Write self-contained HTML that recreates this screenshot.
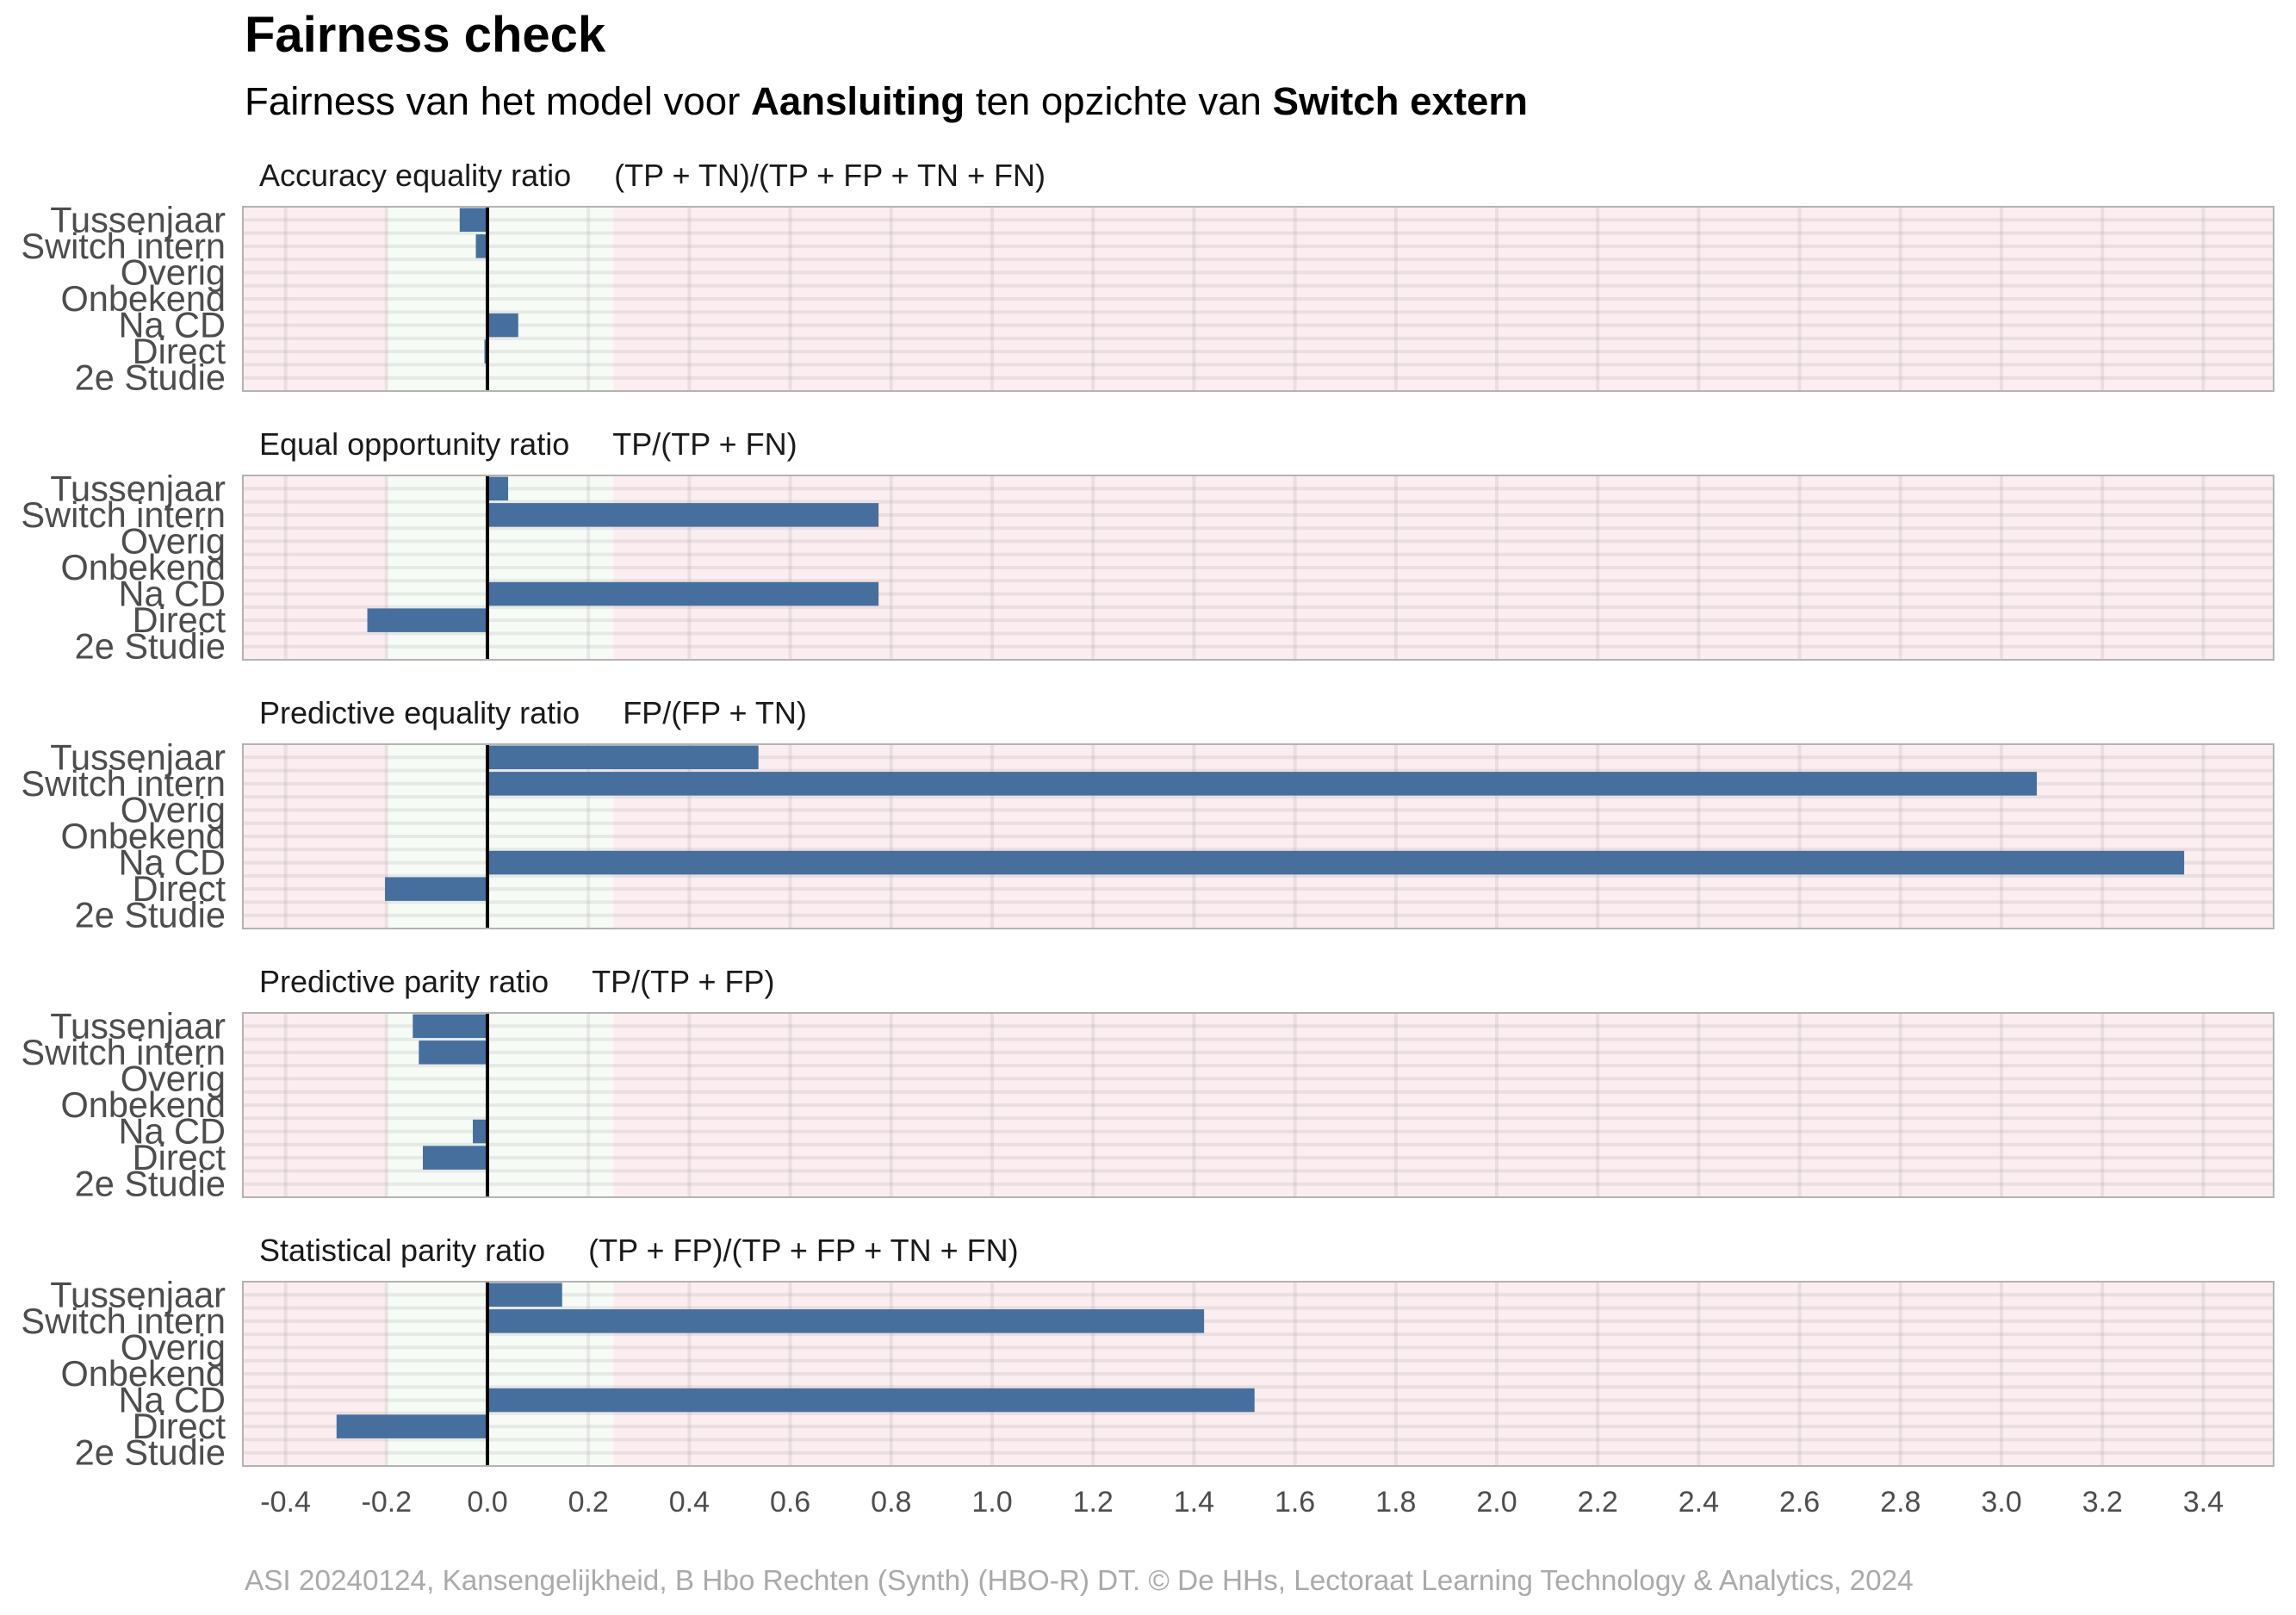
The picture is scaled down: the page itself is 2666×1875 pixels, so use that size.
<!DOCTYPE html>
<html><head><meta charset="utf-8"><style>
html,body{margin:0;padding:0;background:#fff;}
svg{display:block;font-family:"Liberation Sans",Arial,sans-serif;}
</style></head><body>
<svg id="chart" width="2666" height="1875" viewBox="0 0 2666 1875" xmlns="http://www.w3.org/2000/svg">
<text x="284" y="60" font-size="58" font-weight="bold" fill="#000">Fairness check</text>
<text x="284" y="133" font-size="45.6" fill="#000">Fairness van het model voor <tspan font-weight="bold">Aansluiting</tspan> ten opzichte van <tspan font-weight="bold">Switch extern</tspan></text>
<g id="panels"></g>
<g id="xaxis"></g>
<text x="284" y="1846" font-size="33.3" fill="#aaaaaa">ASI 20240124, Kansengelijkheid, B Hbo Rechten (Synth) (HBO-R) DT. © De HHs, Lectoraat Learning Technology &amp; Analytics, 2024</text>
</svg>
<script>
const categories = ["Tussenjaar","Switch intern","Overig","Onbekend","Na CD","Direct","2e Studie"];
const metricNames = ["Accuracy equality ratio","Equal opportunity ratio","Predictive equality ratio","Predictive parity ratio","Statistical parity ratio"];
const metricFormulas = ["(TP + TN)/(TP + FP + TN + FN)","TP/(TP + FN)","FP/(FP + TN)","TP/(TP + FP)","(TP + FP)/(TP + FP + TN + FN)"];
const accuracyValues = [-0.055,-0.023,0,0,0.061,-0.006,0];
const equalOppValues = [0.041,0.775,0,0,0.775,-0.238,0];
const predEqualityValues = [0.537,3.07,0,0,3.362,-0.203,0];
const predParityValues = [-0.148,-0.136,0,0,-0.029,-0.128,0];
const statParityValues = [0.148,1.42,0,0,1.52,-0.299,0];
const xTicks = [-0.4,-0.2,0,0.2,0.4,0.6,0.8,1.0,1.2,1.4,1.6,1.8,2.0,2.2,2.4,2.6,2.8,3.0,3.2,3.4];
const fairBand = [-0.2,0.25];

const series=[accuracyValues,equalOppValues,predEqualityValues,predParityValues,statParityValues];
const NS="http://www.w3.org/2000/svg";
const L=282,R=2640,X0=566,PX=586;
const x=v=>X0+v*PX;
const panelTops=[240,552,864,1176,1488],PH=214;
function mk(tag,attrs,parent){const e=document.createElementNS(NS,tag);for(const k in attrs)e.setAttribute(k,attrs[k]);parent.appendChild(e);return e;}
const root=document.getElementById('panels');
const gridCol='rgba(175,170,172,0.22)';
series.forEach((vals,p)=>{
  const top=panelTops[p];const row=PH/categories.length;
  const yc=i=>top+(i+0.5)*row;
  const g=mk('g',{},root);
  
  
  const st=mk('text',{x:301,y:top-24,'font-size':36,fill:'#1a1a1a'},g);
  
  
  st.textContent=metricNames[p]+"\u00a0\u00a0\u00a0\u00a0\u00a0"+metricFormulas[p];
  const bg=mk('rect',{x:L,y:top,width:R-L,height:PH,fill:'#fcedf0'},g);
  
  
  const gz=mk('rect',{x:x(fairBand[0]),y:top,width:x(fairBand[1])-x(fairBand[0]),height:PH,fill:'#f7fbf6'},g);
  
  
  for(let i=1;i<categories.length*2;i++){
    const yy=top+i*row/2;
    mk('line',{x1:L,x2:R,y1:yy,y2:yy,stroke:gridCol,'stroke-width':4},g);
  }
  xTicks.forEach(t=>mk('line',{x1:x(t),x2:x(t),y1:top,y2:top+PH,stroke:gridCol,'stroke-width':4},g));
  vals.forEach((v,i)=>{
    const lb=mk('text',{x:262,y:yc(i)+14,'font-size':41.5,fill:'#4d4d4d','text-anchor':'end'},g);
    
    
    lb.textContent=categories[i];
    if(v!==0){
      const bh=row*0.9;
      const b=mk('rect',{x:Math.min(x(0),x(v)),y:yc(i)-bh/2,width:Math.abs(x(v)-x(0)),height:bh,fill:'#466f9d'},g);
      
      
    }
  });
  const zl=mk('line',{x1:x(0),x2:x(0),y1:top,y2:top+PH,stroke:'#000','stroke-width':4},g);
  
  
  mk('rect',{x:L,y:top,width:R-L,height:PH,fill:'none',stroke:'#b3b3b3','stroke-width':2},g);
});
const xa=document.getElementById('xaxis');
xTicks.forEach(t=>{
  const tx=mk('text',{x:x(t),y:1755,'font-size':34,fill:'#4d4d4d','text-anchor':'middle'},xa);
  
  
  tx.textContent=t.toFixed(1);
});
</script>
</body></html>
